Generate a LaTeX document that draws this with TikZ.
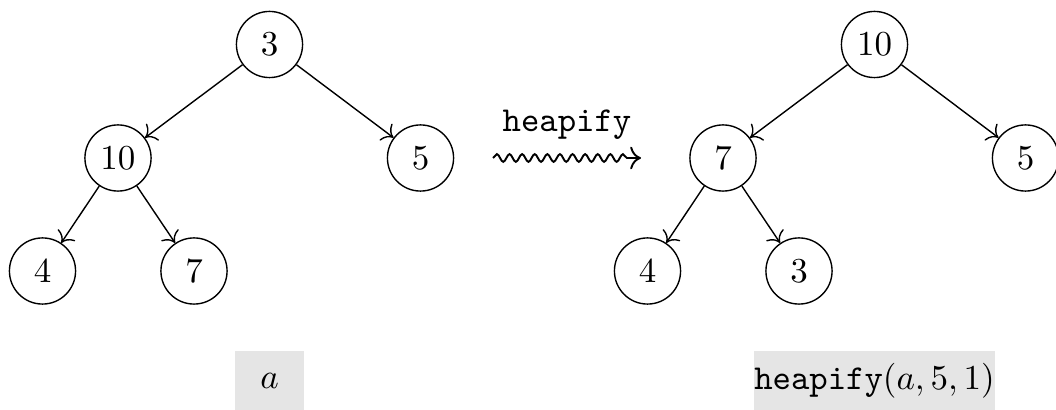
\documentclass[tikz,border=0pt]{standalone}
\usetikzlibrary{decorations.pathmorphing,arrows.meta}
\begin{document}
\begin{tikzpicture}[x=0.2857pt,y=-0.2857pt,
  hnode/.style={circle,draw,minimum size=18.9pt,inner sep=0pt},
  edge/.style={-{To[scale=1.15]}},
  lbl/.style={fill=gray!20,minimum height=17.1pt,inner sep=0pt}]
\useasboundingbox (0,0) rectangle (1056,410);
% left tree
\node[hnode] (l3) at (269.5,44.5) {$3$};
\node[hnode] (l10) at (118,158) {$10$};
\node[hnode] (l5) at (420.5,158) {$5$};
\node[hnode] (l4) at (42.5,271) {$4$};
\node[hnode] (l7) at (194,271) {$7$};
\draw[edge] (l3) -- (l10);
\draw[edge] (l3) -- (l5);
\draw[edge] (l10) -- (l4);
\draw[edge] (l10) -- (l7);
% right tree
\node[hnode] (r10) at (874.5,44.5) {$10$};
\node[hnode] (r7) at (723,158) {$7$};
\node[hnode] (r5) at (1025.5,158) {$5$};
\node[hnode] (r4) at (647.5,271) {$4$};
\node[hnode] (r3) at (799,271) {$3$};
\draw[edge] (r10) -- (r7);
\draw[edge] (r10) -- (r5);
\draw[edge] (r7) -- (r4);
\draw[edge] (r7) -- (r3);
% wavy arrow
\coordinate (ws) at (493,158);
\coordinate (we) at (641,158);
\draw[-{To[scale=1.1]},line width=0.55pt,decorate,decoration={snake,amplitude=1.1pt,segment length=3.6pt,post length=3pt}] (ws) -- (we);
\node (hl) at (567,125) {\texttt{heapify}};
% labels
\node[lbl,minimum width=19.7pt] (la) at (269.5,381) {$a$};
\node[lbl,minimum width=67.3pt] (ra) at (874.5,381) {$\texttt{heapify}(a,5,1)$};
\end{tikzpicture}
\end{document}
